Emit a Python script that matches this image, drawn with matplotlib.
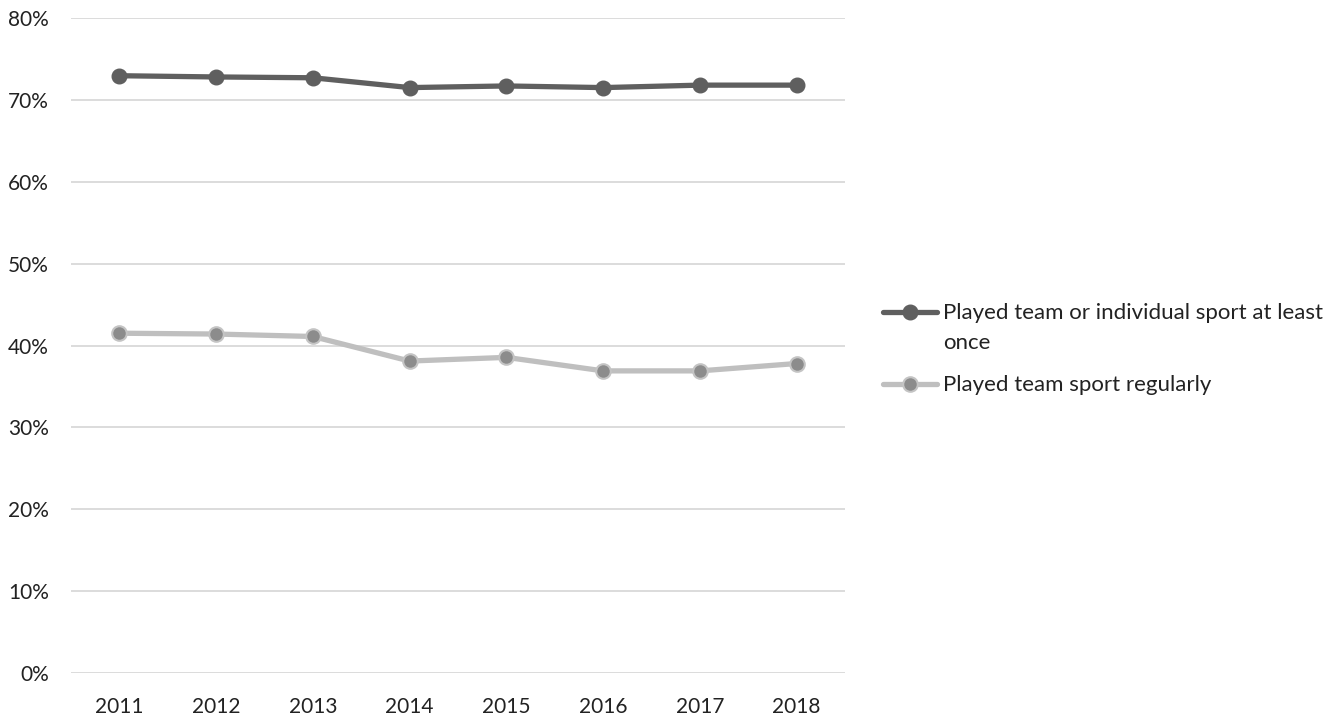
import matplotlib
matplotlib.use("Agg")
import matplotlib.pyplot as plt
from matplotlib.lines import Line2D
from matplotlib.ticker import FuncFormatter

years = ["2011", "2012", "2013", "2014", "2015", "2016", "2017", "2018"]
at_least_once = [72.95, 72.8, 72.7, 71.5, 71.7, 71.5, 71.8, 71.8]
team_regularly = [41.5, 41.4, 41.1, 38.1, 38.55, 36.9, 36.9, 37.8]
series_labels = ["Played team or individual sport at least\nonce", "Played team sport regularly"]
yticks = [0, 10, 20, 30, 40, 50, 60, 70, 80]

plt.rcParams['font.family'] = ['Lato', 'DejaVu Sans']

W, H = 1338, 717
fig = plt.figure(figsize=(W / 100, H / 100), dpi=100)
ax = fig.add_axes([71 / W, (H - 673) / H, (845 - 71) / W, (673 - 18) / H])

dark = dict(color="#5f5f5f", lw=3.8, marker="o", ms=10.5, mfc="#5f5f5f", mec="#5f5f5f")
light = dict(color="#bfbfbf", lw=3.8, marker="o", ms=10.5, mfc="#8c8c8c", mec="#c4c4c4", mew=1.5)

x = list(range(len(years)))
ax.plot(x, at_least_once, solid_capstyle="round", **dark)
ax.plot(x, team_regularly, solid_capstyle="round", **light)

ax.set_xlim(-0.5, len(years) - 0.5)
ax.set_ylim(0, 80)
ax.set_yticks(yticks)
ax.yaxis.set_major_formatter(FuncFormatter(lambda v, p: f"{int(v)}%"))
ax.set_xticks(x)
ax.set_xticklabels(years)
ax.grid(axis="y", color="#d9d9d9", lw=1.3)
ax.set_axisbelow(True)
for s in ax.spines.values():
    s.set_visible(False)
ax.tick_params(length=0, labelsize=15, colors="#222222")
ax.tick_params(axis="x", pad=17)
ax.tick_params(axis="y", pad=16)

# manual legend (Excel-style: handle aligned with first text line)
entries = [(series_labels[0], dark, 312), (series_labels[1], light, 384)]
for label, style, yc in entries:
    yf = (H - yc) / H
    ln = Line2D([883 / W, 937 / W], [yf, yf], transform=fig.transFigure,
                color=style["color"], lw=style["lw"], solid_capstyle="round")
    mk = Line2D([910 / W], [yf], transform=fig.transFigure, linestyle="none",
                marker="o", ms=style["ms"], mfc=style["mfc"], mec=style["mec"],
                mew=style.get("mew", 1.0))
    fig.add_artist(ln)
    fig.add_artist(mk)
    for i, line in enumerate(label.split("\n")):
        base = yc + 7 + i * 30
        fig.text(943 / W, (H - base) / H, line, fontsize=16, color="#222222",
                 va="baseline", ha="left", transform=fig.transFigure)

fig.savefig("out.png", dpi=100)
